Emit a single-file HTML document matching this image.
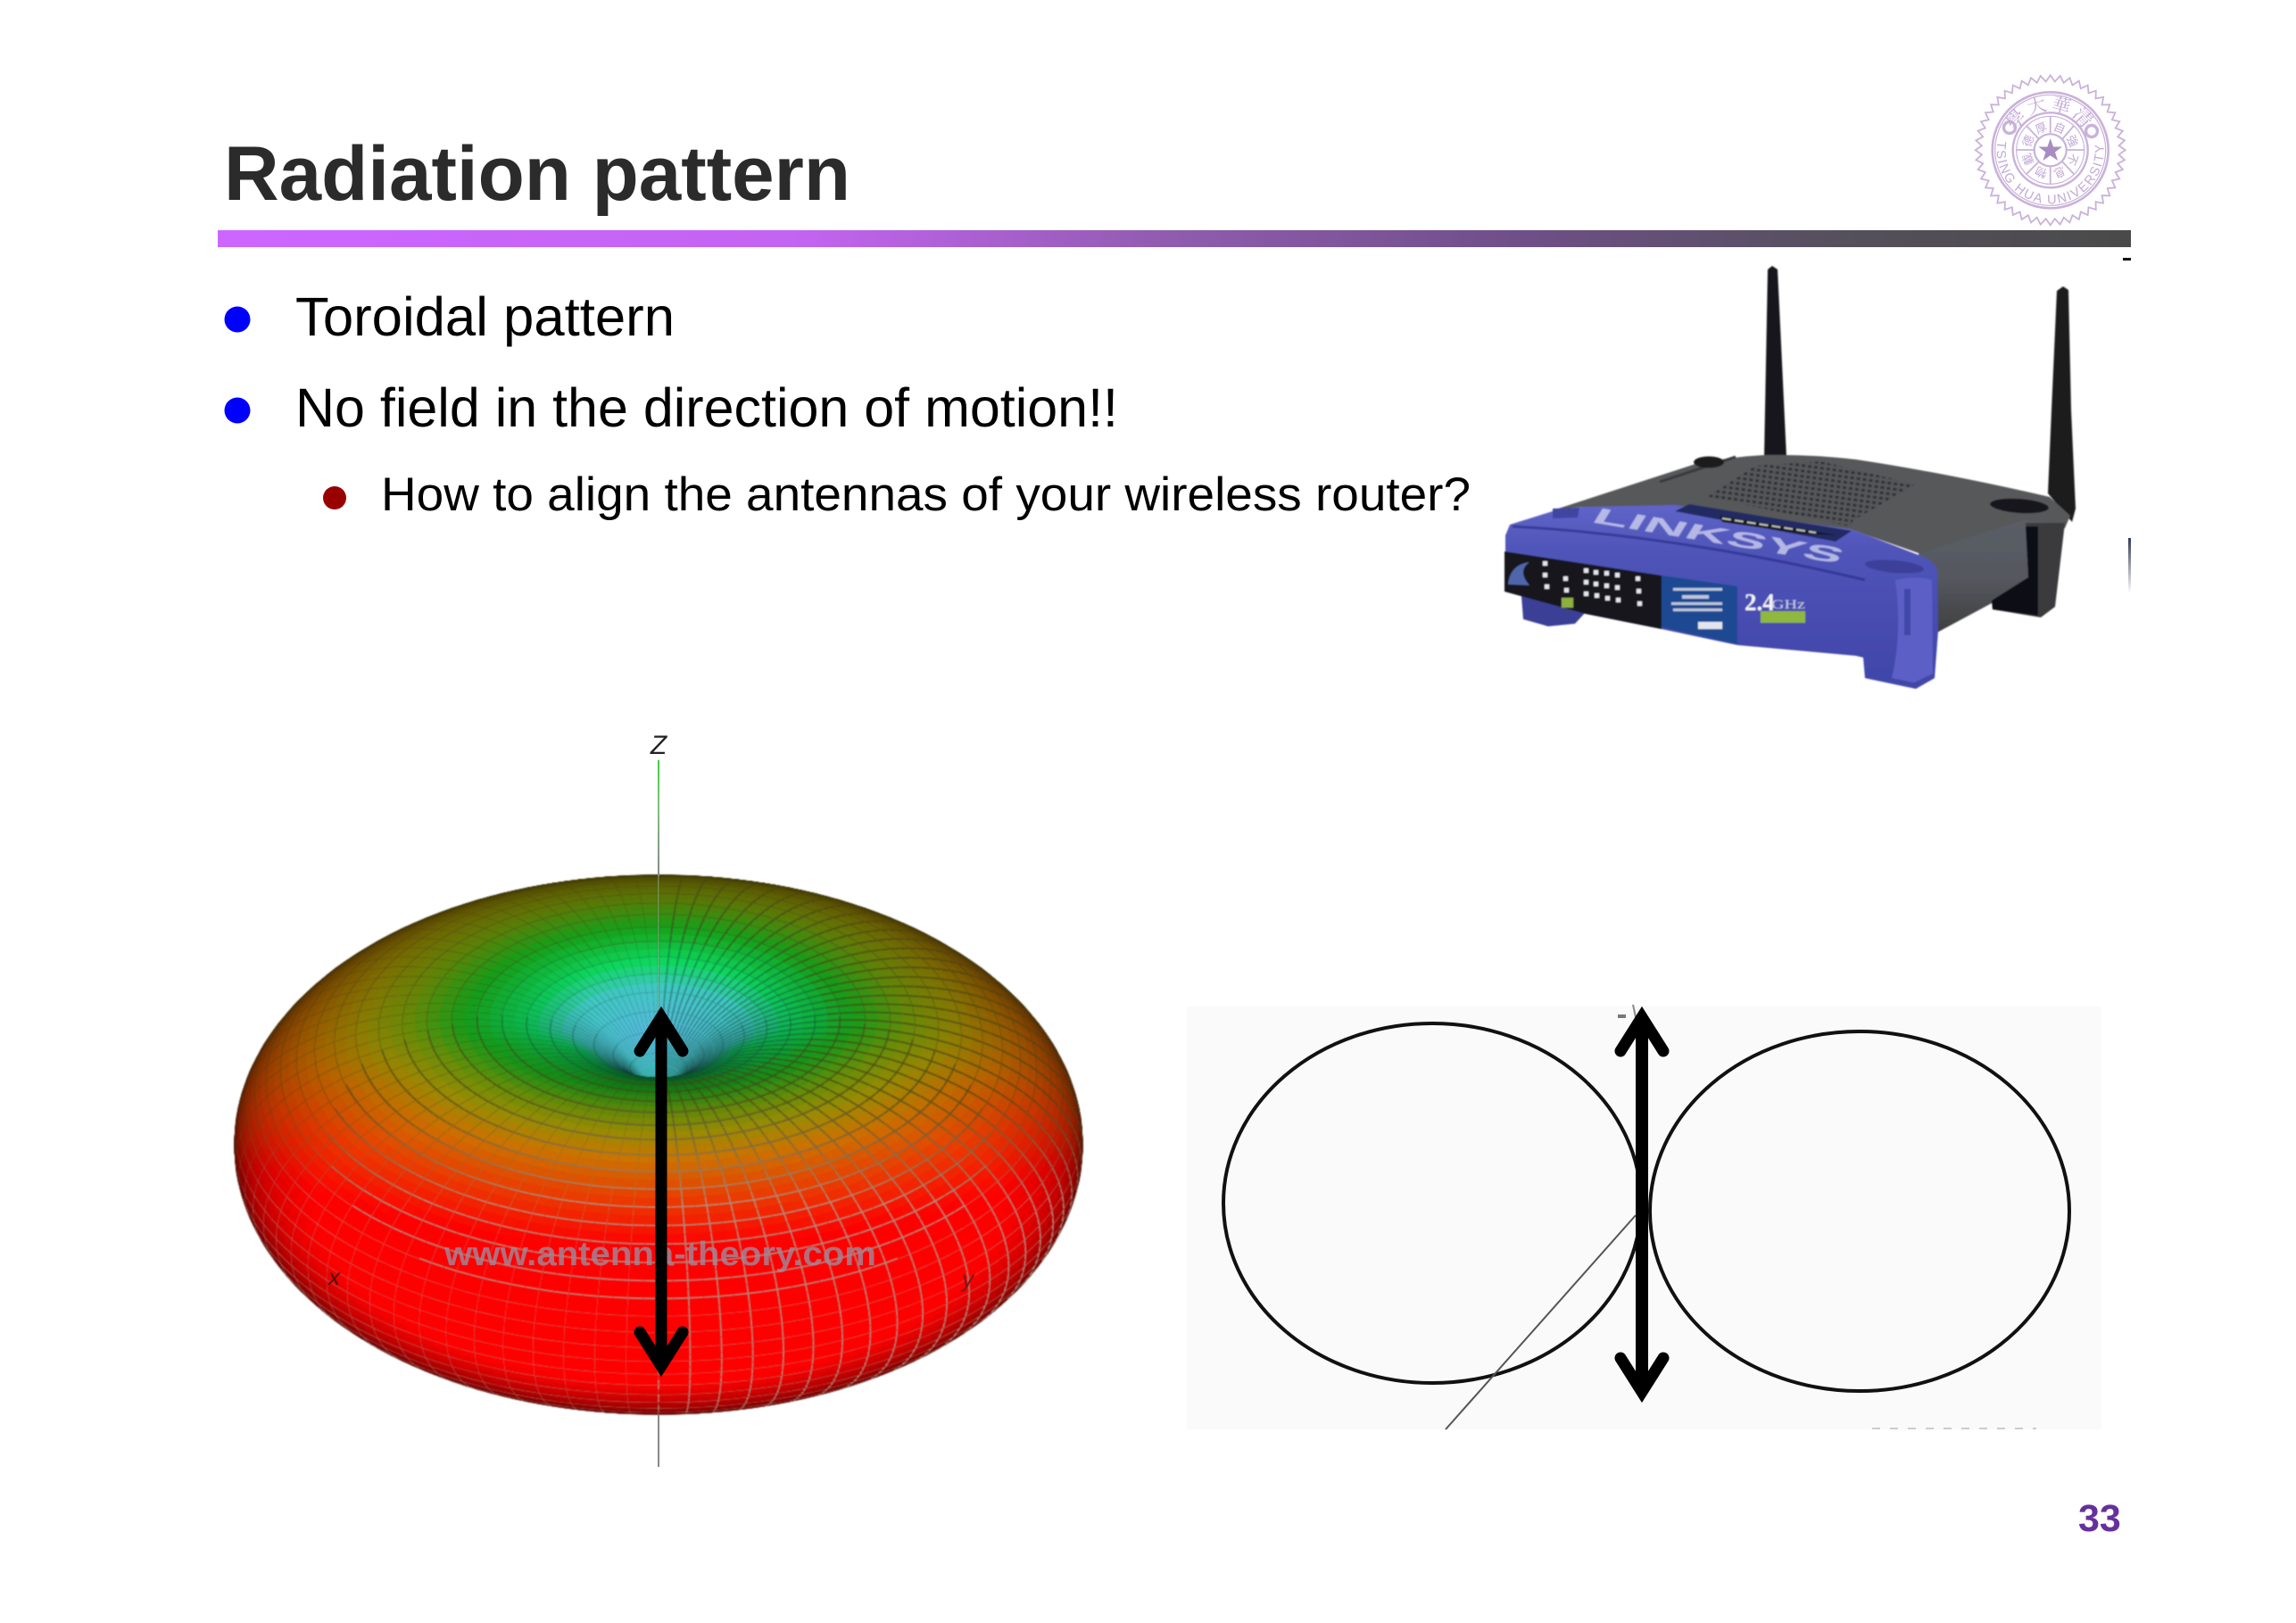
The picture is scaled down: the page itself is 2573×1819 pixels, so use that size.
<!DOCTYPE html>
<html><head><meta charset="utf-8"><title>Radiation pattern</title>
<style>
html,body{margin:0;padding:0;background:#fff;width:2573px;height:1819px;overflow:hidden}
#wrap{position:relative;width:2573px;height:1819px}
svg,canvas{position:absolute;left:0;top:0}
text{font-family:"Liberation Sans",Arial,"Noto Sans CJK SC",sans-serif}
.cj{font-family:"Noto Serif CJK SC","Liberation Serif",serif}
</style></head><body><div id="wrap">
<svg id="under" width="2573" height="1819" viewBox="0 0 2573 1819">
<defs>
<linearGradient id="bar" gradientUnits="userSpaceOnUse" x1="244" y1="0" x2="2388" y2="0">
<stop offset="0" stop-color="#cc66ff"/><stop offset=".3" stop-color="#c464f2"/><stop offset=".5" stop-color="#8f5cae"/><stop offset=".68" stop-color="#6f4f88"/><stop offset=".85" stop-color="#55505c"/><stop offset="1" stop-color="#4a4a4a"/>
</linearGradient>
<linearGradient id="zaxis" x1="0" y1="0" x2="0" y2="1"><stop offset="0" stop-color="#40d040"/><stop offset=".4" stop-color="#80c080"/><stop offset="1" stop-color="#888"/></linearGradient>
<linearGradient id="sideG" x1="0" y1="0" x2="0" y2="1"><stop offset="0" stop-color="#5a5d66"/><stop offset=".5" stop-color="#55585f"/><stop offset="1" stop-color="#3d3e3e"/></linearGradient>
<linearGradient id="frontG" x1="0" y1="0" x2="0" y2="1"><stop offset="0" stop-color="#5f64c8"/><stop offset=".25" stop-color="#4f54b8"/><stop offset="1" stop-color="#3f45a8"/></linearGradient>
<linearGradient id="streak" x1="0" y1="0" x2="0" y2="1"><stop offset="0" stop-color="#333a55"/><stop offset="1" stop-color="#333a55" stop-opacity="0"/></linearGradient>
<pattern id="vent" width="7" height="6" patternUnits="userSpaceOnUse" patternTransform="rotate(8)"><rect width="7" height="6" fill="#55565a"/><rect x="0" y="0" width="4" height="3" fill="#2f3032"/></pattern>
<filter id="soft" x="-5%" y="-5%" width="110%" height="110%"><feGaussianBlur stdDeviation=".9"/></filter>
<path id="sealTop" d="M2253.2,168.3 A44.5,44.5 0 0 1 2342.2,168.3"/>
<path id="sealBot" d="M2238.6,158 A60,60 0 1 0 2356.8,158"/>
</defs>
<text x="251" y="224" font-size="86" font-weight="bold" fill="#2b2b2b" textLength="702" lengthAdjust="spacingAndGlyphs">Radiation pattern</text>
<rect x="244" y="258" width="2144" height="19" fill="url(#bar)"/>
<ellipse cx="266" cy="358" rx="14.5" ry="14.5" fill="#0000ff"/>
<ellipse cx="266" cy="460" rx="14.5" ry="14.5" fill="#0000ff"/>
<ellipse cx="375" cy="558" rx="13" ry="13" fill="#990000"/>
<text x="331" y="376" font-size="61" fill="#000" textLength="425" lengthAdjust="spacingAndGlyphs">Toroidal pattern</text>
<text x="331" y="478" font-size="61" fill="#000" textLength="922" lengthAdjust="spacingAndGlyphs">No field in the direction of motion!!</text>
<text x="427" y="572" font-size="53" fill="#000" textLength="1221" lengthAdjust="spacingAndGlyphs">How to align the antennas of your wireless router?</text>
<text x="2329" y="1716" font-size="43" font-weight="bold" fill="#66309c">33</text>

<!-- seal -->
<g id="seal" fill="none" stroke="#c9b2da">
<polygon id="zig" stroke-width="1.8" points=""/>
<circle cx="2297.7" cy="168.3" r="65" stroke-width="2.6"/>
<circle cx="2297.7" cy="168.3" r="62" stroke-width="1.2"/>
<circle cx="2297.7" cy="168.3" r="42" stroke-width="2.4"/>
<circle cx="2297.7" cy="168.3" r="38" stroke-width="1.2"/>
<circle cx="2297.7" cy="168.3" r="18" stroke-width="2.2"/>
<g stroke-width="1.8"><path d="M2297.7,150V130M2297.7,186V206M2280,168H2260M2315,168H2336M2285,156L2271,141M2311,156L2324,141M2285,181L2271,195M2311,181L2324,195"/></g>
<circle cx="2252" cy="143" r="6.5" stroke-width="3.4"/><circle cx="2344" cy="147" r="6.5" stroke-width="3.4"/>
<polygon fill="#a98cc4" stroke="none" points="2297.7,155 2301,164.5 2311,164.5 2303,170.5 2306,180 2297.7,174.3 2289.4,180 2292.4,170.5 2284.4,164.5 2294.4,164.5"/>
<g stroke="none" fill="#c3a9d6">
<text font-size="21" class="cj" style='font-family:"Noto Serif CJK SC",serif'><textPath href="#sealTop" startOffset="50%" text-anchor="middle" letter-spacing="3">學大華清</textPath></text>
<text font-size="14.5"><textPath href="#sealBot" textLength="205" lengthAdjust="spacing">TSING HUA UNIVERSITY</textPath></text>
<g font-size="13" text-anchor="middle" style='font-family:"Noto Serif CJK SC",serif'>
<text x="2297.7" y="146" transform="rotate(22.5 2297.7 168.3)">自</text>
<text x="2297.7" y="146" transform="rotate(67.5 2297.7 168.3)">強</text>
<text x="2297.7" y="146" transform="rotate(112.5 2297.7 168.3)">不</text>
<text x="2297.7" y="146" transform="rotate(157.5 2297.7 168.3)">息</text>
<text x="2297.7" y="146" transform="rotate(-22.5 2297.7 168.3)">厚</text>
<text x="2297.7" y="146" transform="rotate(-67.5 2297.7 168.3)">德</text>
<text x="2297.7" y="146" transform="rotate(-112.5 2297.7 168.3)">載</text>
<text x="2297.7" y="146" transform="rotate(-157.5 2297.7 168.3)">物</text>
</g></g>
</g>

<!-- router -->
<rect x="2379" y="289" width="9" height="3" fill="#111"/>
<rect x="2385" y="603" width="3" height="62" fill="url(#streak)"/>
<g filter="url(#soft)">
<polygon points="1981,302 1986,298 1992,302 2002,512 1977,512" fill="#17181a"/>
<polygon points="2305,326 2312,321 2318,325 2321,460 2326,570 2322,585 2295,553 2299,460" fill="#1c1c1e"/>
<path d="M1740,572 L1900,520 Q1940,512 1977,510 Q2030,509 2080,515 Q2180,530 2297,557 L2320,578 L2314,592 L2267,590 L2173,628 L2093,600 L2073,593 L1877,568 L1773,568 Z" fill="#57585a"/>
<polygon points="1913,557 1967,522 2040,517 2147,543 2077,583 2073,590" fill="url(#vent)"/>
<path d="M1860,540 L1945,512" stroke="#38393b" stroke-width="3" fill="none"/>
<ellipse cx="1915" cy="518" rx="17" ry="6.5" fill="#1b1c1e"/>
<ellipse cx="2263" cy="567" rx="33" ry="8" transform="rotate(4 2263 567)" fill="#17181a"/>
<polygon points="2150,620 2267,583 2290,585 2290,640 2232,676 2165,712" fill="url(#sideG)"/>
<polygon points="2270,586 2314,586 2303,680 2287,692 2233,683 2232,673 2273,647" fill="#3b3b3d"/>
<polygon points="2270,590 2284,590 2284,690 2233,683 2232,673 2273,647" fill="#111113"/>
<path d="M1687,600 L1692,588 L1743,572 L1773,568 L1877,566 L2073,593 L2093,600 L2150,622 Q2168,628 2171,640 L2172,707 L2168,760 L2147,772 L2090,760 L2088,737 L2080,735 L1947,723 L1862,705 L1777,688 L1687,663 Z" fill="url(#frontG)"/>
<path d="M1695,590 Q1880,600 2090,650" fill="none" stroke="#2f3390" stroke-width="3" opacity=".8"/>
<polygon points="1740,570 1770,569 1768,580 1740,581" fill="#3f45a2"/>
<polygon points="1877,573 1893,565 2075,595 2057,607" fill="#242a63"/>
<polygon points="1927,578 2060,600 2020,598 1930,585" fill="#17171f"/>
<path d="M1930,581 L2035,597" stroke="#c0c4b0" stroke-width="2" stroke-dasharray="10 4" fill="none"/>
<text transform="translate(1782,585) rotate(9.5) skewX(-22)" font-size="25" font-weight="bold" fill="#cdd0f0" opacity=".8" textLength="282" lengthAdjust="spacingAndGlyphs">LINKSYS</text>
<ellipse cx="2123" cy="635" rx="33" ry="7" transform="rotate(5 2123 635)" fill="#3d4198"/>
<path d="M2124,650 Q2150,645 2165,650 L2166,755 L2145,765 L2120,760 Q2132,710 2124,650 Z" fill="#5b60c6"/>
<rect x="2134" y="660" width="7" height="52" fill="#3f46a8"/>
<polygon points="1705,668 1777,686 1765,699 1735,702 1707,694" fill="#3a3f96"/>
<polygon points="1686,618 1862,645 1862,705 1777,688 1686,663" fill="#15151d"/>
<polygon points="1862,645 1947,657 1947,722 1862,703" fill="#1e4a92"/>
<g fill="#e4e6ee">
<rect x="1729" y="629" width="5" height="5"/><rect x="1729" y="642" width="5" height="5"/><rect x="1731" y="655" width="5" height="5"/>
<rect x="1752" y="646" width="5" height="5"/><rect x="1753" y="659" width="5" height="5"/>
<rect x="1775" y="637" width="5" height="5"/><rect x="1775" y="650" width="5" height="5"/><rect x="1775" y="663" width="5" height="5"/>
<rect x="1786" y="639" width="5" height="5"/><rect x="1786" y="652" width="5" height="5"/><rect x="1787" y="665" width="5" height="5"/>
<rect x="1798" y="640" width="5" height="5"/><rect x="1798" y="654" width="5" height="5"/><rect x="1799" y="668" width="5" height="5"/>
<rect x="1810" y="642" width="5" height="5"/><rect x="1810" y="656" width="5" height="5"/><rect x="1811" y="670" width="5" height="5"/>
<rect x="1833" y="646" width="5" height="5"/><rect x="1834" y="660" width="5" height="5"/><rect x="1835" y="674" width="5" height="5"/>
<g opacity=".8"><rect x="1875" y="659" width="55" height="3"/><rect x="1885" y="667" width="30" height="4"/><rect x="1873" y="675" width="57" height="3"/><rect x="1875" y="682" width="55" height="3"/></g>
<rect x="1903" y="697" width="27" height="8"/>
</g>
<path d="M1690,655 Q1692,633 1714,630 Q1700,640 1714,656 Z" fill="#4f66aa"/>
<rect x="1750" y="670" width="13" height="11" fill="#8db040"/>
<rect x="1973" y="685" width="50" height="13" fill="#8fb83c"/>
<text x="1955" y="684" font-size="27" font-weight="bold" fill="#f2f3f5" style='font-family:"Liberation Serif",serif'>2.4</text>
<text x="1985" y="682" font-size="15" fill="#c9cce4" style='font-family:"Liberation Serif",serif' textLength="38" lengthAdjust="spacingAndGlyphs">GHz</text>
</g>

<!-- right diagram -->
<rect x="1330" y="1128" width="1025" height="474" fill="#fafafa"/>
<ellipse cx="1605" cy="1348.5" rx="234" ry="201.5" fill="none" stroke="#111" stroke-width="4"/>
<ellipse cx="2084" cy="1357.5" rx="235" ry="201.5" fill="none" stroke="#111" stroke-width="4"/>
<line x1="1833" y1="1362" x2="1620" y2="1602" stroke="#555" stroke-width="2"/>
<path d="M2098,1601H2282" stroke="#ccc" stroke-width="2" stroke-dasharray="9 11"/>
<rect x="1813" y="1137" width="9" height="4" fill="#777"/>
<path d="M1830,1126L1833,1140" stroke="#888" stroke-width="2"/>
<g fill="none" stroke="#000">
<line x1="1840" y1="1140" x2="1840" y2="1560" stroke-width="14"/>
<polyline points="1816,1178 1840,1140 1864,1178" stroke-width="13" stroke-linecap="round" stroke-miterlimit="10"/>
<polyline points="1816,1522 1840,1560 1864,1522" stroke-width="13" stroke-linecap="round" stroke-miterlimit="10"/>
</g>
</svg>
<canvas id="tor" width="1040" height="700" style="left:220px;top:940px;filter:blur(.6px)"></canvas>
<svg width="2573" height="1819" viewBox="0 0 2573 1819">
<text x="738" y="845" font-size="30" fill="#222" text-anchor="middle" style="font-style:italic">Z</text>
<rect x="737" y="852" width="2" height="130" fill="url(#zaxis)"/>
<rect x="737" y="982" width="1.5" height="150" fill="#9fd59f" opacity=".45"/>
<rect x="737" y="1586" width="2" height="58" fill="#888"/>
<text x="498" y="1418" font-size="38" font-weight="bold" fill="#9e8a9c" opacity=".8" textLength="484" lengthAdjust="spacingAndGlyphs">www.antenna-theory.com</text>
<text x="368" y="1440" font-size="26" fill="#4a1010" style="font-style:italic">x</text>
<text x="1078" y="1442" font-size="26" fill="#7a1818" style="font-style:italic">y</text>
<g fill="none" stroke="#000">
<line x1="741" y1="1140" x2="741" y2="1531" stroke-width="13"/>
<polyline points="717,1178 741,1140 765,1178" stroke-width="13" stroke-linecap="round" stroke-miterlimit="10"/>
<polyline points="717,1493 741,1531 765,1493" stroke-width="13" stroke-linecap="round" stroke-miterlimit="10"/>
</g>
</svg>
</div>
<script>
(function(){
var z=document.getElementById('zig'),pts=[],n=48,i;
for(i=0;i<n*2;i++){var a=i*Math.PI/n,r=i%2?77:84;pts.push((2297.7+r*Math.cos(a)).toFixed(1)+','+(168.3+r*Math.sin(a)).toFixed(1));}
z.setAttribute('points',pts.join(' '));
var c=document.getElementById('tor').getContext('2d');
var R=475,pw=.6,se=.51,e=Math.asin(se),ce=Math.cos(e),k=.5/ce,ox=738-220,oy=1283-940;
var NT=100,NP=168;
function sm(a,b,x){var t=Math.max(0,Math.min(1,(x-a)/(b-a)));return t*t*(3-2*t);}
function P(t,p){var s=Math.max(Math.sin(t),1e-4),co=Math.cos(t),r=Math.pow(s,pw),rho=R*r*s;
 return [rho*Math.cos(p),rho*Math.sin(p),R*k*r*co];}
function proj(q){return [ox+q[0],oy-q[2]*ce+q[1]*se,q[1]*ce+q[2]*se];}
var stops=[[0,90,185,225],[.3,65,200,195],[.45,15,215,95],[.67,25,180,30],[.85,120,160,10],[1,165,150,5],[1.2,205,115,0],[1.5,235,60,0],[1.85,255,0,0]];
function cmap(u){if(u<=0)return stops[0].slice(1);for(var i=1;i<stops.length;i++){if(u<=stops[i][0]){var a=stops[i-1],b=stops[i],f=(u-a[0])/(b[0]-a[0]);return [a[1]+(b[1]-a[1])*f,a[2]+(b[2]-a[2])*f,a[3]+(b[3]-a[3])*f];}}return [255,0,0];}
var quads=[],dt=Math.PI/NT,dp=2*Math.PI/NP,d2r=Math.PI/180;
for(var it=0;it<NT;it++){for(var ip=0;ip<NP;ip++){
 var t0=it*dt+.0005,t1=(it+1)*dt,p0=ip*dp,p1=(ip+1)*dp,tm=(t0+t1)/2,pm=(p0+p1)/2;
 var A=P(t0,p0),B=P(t1,p0),C=P(t1,p1),D=P(t0,p1);
 var u=[C[0]-A[0],C[1]-A[1],C[2]-A[2]],w=[D[0]-B[0],D[1]-B[1],D[2]-B[2]];
 var nx=u[1]*w[2]-u[2]*w[1],ny=u[2]*w[0]-u[0]*w[2],nz=u[0]*w[1]-u[1]*w[0],l=Math.sqrt(nx*nx+ny*ny+nz*nz)||1;
 var nv=Math.abs((ny*ce+nz*se)/l);
 var a=proj(A),b=proj(B),cc=proj(C),d=proj(D);
 var sx=(a[0]+b[0]+cc[0]+d[0])/4+220-738,sy=(a[1]+b[1]+cc[1]+d[1])/4+940-1160;
 var wt=sm(-.15,.35,Math.sin(pm))*sm(12*d2r,24*d2r,tm);
 var uT=Math.sqrt(sx*sx/108900+sy*sy/32400);
 var fy=Math.max(sy+40,0),uF=Math.sqrt(sx*sx/108900+fy*fy/22500);
 var uu=uT+(uF-uT)*wt;
 var lt=Math.max(0,Math.min(1,(sy-70)/120))*wt;
 quads.push({a:a,b:b,c:cc,d:d,z:(a[2]+b[2]+cc[2]+d[2])/4,u:uu,nv:nv,it:it,ip:ip,lt:lt});
}}
quads.sort(function(x,y){return x.z-y.z;});
c.lineJoin='round';
for(var q=0;q<quads.length;q++){var Q=quads[q];
 var col=cmap(Q.u),sh=.22+.78*Math.pow(Math.min(1,Q.nv*1.5),.7);
 var css='rgb('+(col[0]*sh|0)+','+(col[1]*sh|0)+','+(col[2]*sh|0)+')';
 c.fillStyle=css;c.strokeStyle=css;c.lineWidth=1;
 c.beginPath();c.moveTo(Q.a[0],Q.a[1]);c.lineTo(Q.b[0],Q.b[1]);c.lineTo(Q.c[0],Q.c[1]);c.lineTo(Q.d[0],Q.d[1]);c.closePath();c.fill();c.stroke();
 var g;
 if(Q.u<=.6)g='rgba(20,70,60,.45)';
 else{var L=Q.lt;g='rgba('+((70+105*L)|0)+','+((70+80*L)|0)+','+((25+110*L)|0)+','+(.7+.2*L).toFixed(2)+')';}
 c.strokeStyle=g;c.lineWidth=1.8;
 if(Q.ip%2==0){c.beginPath();c.moveTo(Q.a[0],Q.a[1]);c.lineTo(Q.b[0],Q.b[1]);c.stroke();}
 if(Q.it%2==0){c.beginPath();c.moveTo(Q.a[0],Q.a[1]);c.lineTo(Q.d[0],Q.d[1]);c.stroke();}
}
})();
</script>
</body></html>
